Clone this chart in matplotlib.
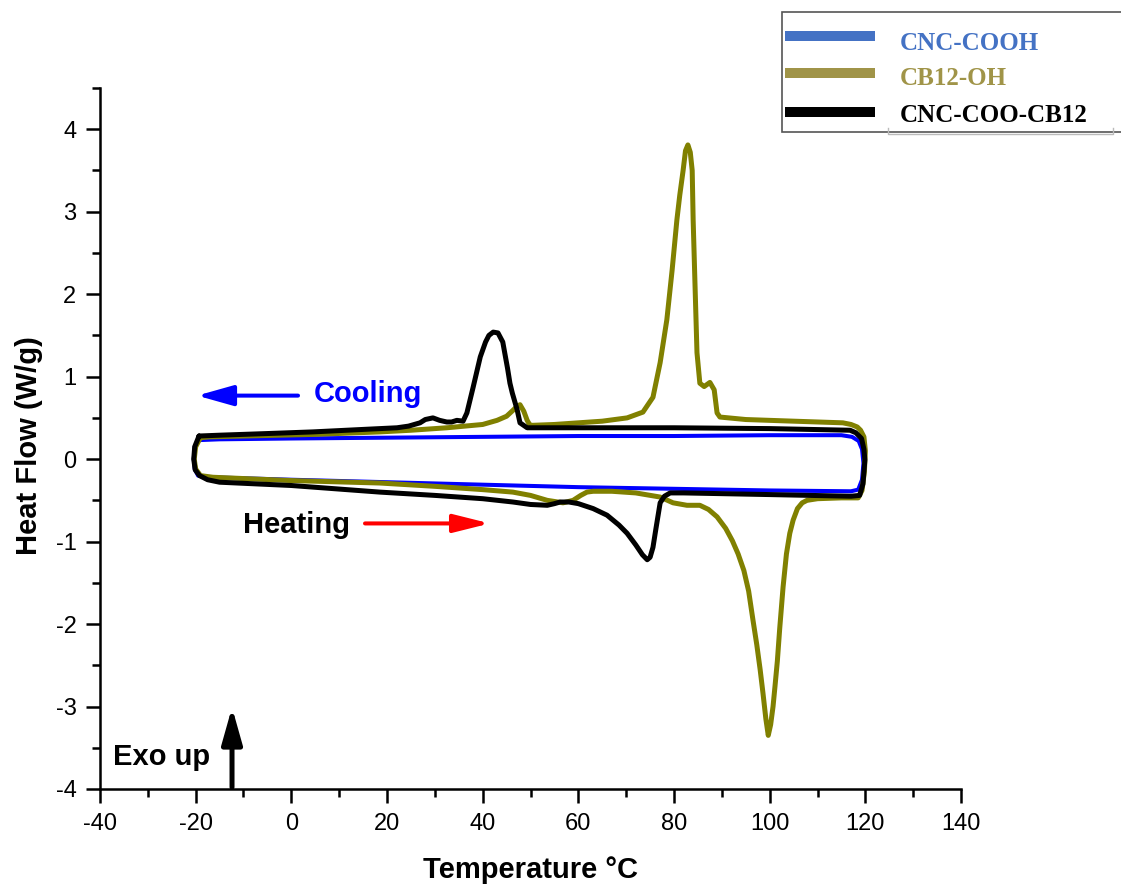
import numpy as np
import matplotlib.pyplot as plt
from matplotlib.lines import Line2D
from matplotlib.patches import Rectangle
from matplotlib.ticker import MultipleLocator

'''
    DSC loops read off the picture: heating branch (bottom) then cooling branch (top)
'''
cooh_heat_T = [-19.5, -20.2, -20.4, -20.2, -19.5, -17.0, 0, 20, 40, 60, 80, 100, 117.0, 118.5, 119.3, 119.6]
cooh_heat_hf = [0.23, 0.15, 0.0, -0.12, -0.20, -0.22, -0.25, -0.28, -0.31, -0.34, -0.36, -0.38, -0.39, -0.37, -0.25, -0.05]
cooh_cool_T = [119.6, 119.3, 118.6, 117.2, 115.0, 100, 80, 60, 40, 20, 0, -15, -19.5]
cooh_cool_hf = [-0.05, 0.12, 0.22, 0.27, 0.29, 0.29, 0.28, 0.28, 0.27, 0.26, 0.25, 0.24, 0.23]

cb12_heat_T = [-19.0, -20.0, -20.3, -20.0, -19.0, -16.4, 0, 18.5, 30, 40, 46.3, 50, 53.5, 56.8, 58.9, 60.5, 61.8,
               63.1, 67, 72, 77.1, 79.8, 82.7, 85.4, 87.2, 89.0, 90.8, 92.2, 93.4, 94.6, 95.6, 96.5, 97.3, 98.0,
               98.6, 99.2, 99.7, 100.2, 100.7, 101.1, 101.6, 102.1, 102.8, 103.5, 104.2, 104.9, 105.8, 106.8,
               107.8, 110, 115, 118.5, 119.3, 119.8]
cb12_heat_hf = [0.26, 0.15, 0.0, -0.12, -0.20, -0.22, -0.26, -0.29, -0.33, -0.37, -0.40, -0.44, -0.50, -0.53, -0.50,
                -0.44, -0.40, -0.39, -0.39, -0.41, -0.46, -0.53, -0.56, -0.56, -0.61, -0.70, -0.84, -0.99, -1.15,
                -1.35, -1.60, -1.95, -2.25, -2.55, -2.84, -3.15, -3.35, -3.22, -3.0, -2.76, -2.45, -2.05, -1.55,
                -1.15, -0.90, -0.74, -0.60, -0.53, -0.50, -0.48, -0.47, -0.47, -0.38, -0.15]
cb12_cool_T = [119.8, 120.0, 119.7, 119.0, 118.3, 117.0, 115.3, 105, 95, 89.6, 89.0, 88.4, 87.5, 86.3, 85.4,
               84.8, 84.4, 84.0, 83.8, 83.4, 82.9, 82.4, 81.9, 81.2, 80.6, 79.6, 78.5, 77.1, 75.6, 73.5, 70.2,
               65, 60, 55, 50.5, 49.9, 49.3, 48.6, 47.8, 47.0, 46.3, 45.0, 43.0, 40, 32.5, 25, 18.5, 5, -10, -17, -19.0]
cb12_cool_hf = [-0.15, 0.10, 0.27, 0.35, 0.39, 0.42, 0.44, 0.46, 0.48, 0.51, 0.56, 0.84, 0.93, 0.88, 0.92,
                1.29, 2.09, 2.90, 3.50, 3.72, 3.81, 3.74, 3.50, 3.20, 2.90, 2.29, 1.69, 1.17, 0.75, 0.57, 0.50,
                0.46, 0.44, 0.42, 0.41, 0.41, 0.47, 0.58, 0.66, 0.63, 0.59, 0.52, 0.47, 0.42, 0.38, 0.35, 0.33,
                0.30, 0.28, 0.27, 0.26]

coo_heat_T = [-19.3, -20.2, -20.4, -20.1, -19.2, -17.5, -15, 0, 18.5, 30, 40, 46.3, 50, 53.5, 55, 56.2, 58, 60,
              63.1, 66, 68.5, 70.2, 72, 73.4, 74.4, 75.0, 75.6, 76.2, 77.1, 78.0, 79.2, 82, 100, 117.0, 118.8,
              119.5, 119.9]
coo_heat_hf = [0.28, 0.15, 0.0, -0.13, -0.20, -0.25, -0.28, -0.32, -0.40, -0.44, -0.48, -0.52, -0.55, -0.56,
               -0.54, -0.52, -0.52, -0.54, -0.60, -0.68, -0.80, -0.90, -1.04, -1.16, -1.22, -1.19, -1.07, -0.85,
               -0.53, -0.45, -0.41, -0.41, -0.43, -0.45, -0.44, -0.30, -0.01]
coo_cool_T = [119.9, 119.7, 119.2, 118.0, 116.8, 100, 80, 60, 50, 49.3, 47.8, 47.2, 46.2, 45.7, 45.2, 44.2, 43.2,
              42.2, 41.3, 40.6, 39.5, 38.0, 36.7, 35.9, 34.6, 33.5, 32.5, 31.0, 29.6, 28.0, 26.9, 24.5, 22.1,
              15, 4.5, -5, -15, -19.3]
coo_cool_hf = [-0.01, 0.12, 0.25, 0.32, 0.35, 0.37, 0.38, 0.38, 0.38, 0.38, 0.44, 0.60, 0.80, 0.92, 1.10, 1.42,
               1.53, 1.54, 1.50, 1.42, 1.24, 0.87, 0.56, 0.46, 0.47, 0.45, 0.45, 0.47, 0.50, 0.48, 0.44, 0.40,
               0.38, 0.36, 0.33, 0.31, 0.29, 0.28]

legend_labels = ['CNC-COOH', 'CB12-OH', 'CNC-COO-CB12']
legend_colors = ['#4472c4', '#a09448', '#000000']

x_ticks = [-40, -20, 0, 20, 40, 60, 80, 100, 120, 140]
y_ticks = [-4, -3, -2, -1, 0, 1, 2, 3, 4]

plt.rcParams['font.family'] = ['Liberation Sans', 'DejaVu Sans']
plt.rcParams['axes.unicode_minus'] = False

fig = plt.figure(figsize=(11.21, 8.88), dpi=100, facecolor='white')
ax = fig.add_axes([0.0892, 0.1115, 0.7681, 0.7894])

# blue, olive then black on top
ax.plot(cooh_heat_T + cooh_cool_T, cooh_heat_hf + cooh_cool_hf, color='#0000ff', lw=2.9,
        solid_joinstyle='round', solid_capstyle='round')
ax.plot(cb12_heat_T + cb12_cool_T, cb12_heat_hf + cb12_cool_hf, color='#808000', lw=3.6,
        solid_joinstyle='round', solid_capstyle='round')
ax.plot(coo_heat_T + coo_cool_T, coo_heat_hf + coo_cool_hf, color='#000000', lw=3.6,
        solid_joinstyle='round', solid_capstyle='round')

ax.set_xlim(-40, 140)
ax.set_ylim(-4, 4.5)
ax.set_xticks(x_ticks)
ax.set_yticks(y_ticks)
ax.xaxis.set_minor_locator(MultipleLocator(10))
ax.yaxis.set_minor_locator(MultipleLocator(0.5))
ax.spines['top'].set_visible(False)
ax.spines['right'].set_visible(False)
for s in ['left', 'bottom']:
    ax.spines[s].set_linewidth(1.8)
ax.tick_params(which='major', direction='out', length=10, width=1.8, labelsize=17, pad=7)
ax.tick_params(which='minor', direction='out', length=5.5, width=1.8)

ax.set_xlabel('Temperature °C', fontsize=21, fontweight='bold')
ax.xaxis.set_label_coords(0.5, -0.095)
ax.set_ylabel('Heat Flow (W/g)', fontsize=21, fontweight='bold')
ax.yaxis.set_label_coords(-0.066, 0.49)

# annotations
ax.annotate('', xy=(-19.7, 0.77), xytext=(1.4, 0.77),
            arrowprops=dict(arrowstyle='-|>,head_length=2.2,head_width=0.62', mutation_scale=10,
                            color='#0000ff', lw=2.9, shrinkA=0, shrinkB=0))
ax.text(4.6, 0.69, 'Cooling', color='#0000ff', fontsize=21, fontweight='bold', ha='left', va='baseline')

ax.annotate('', xy=(41.5, -0.78), xytext=(15.4, -0.78),
            arrowprops=dict(arrowstyle='-|>,head_length=2.2,head_width=0.55', mutation_scale=10,
                            color='#ff0000', lw=2.9, shrinkA=0, shrinkB=0))
ax.text(-10.2, -0.90, 'Heating', color='black', fontsize=21, fontweight='bold', ha='left', va='baseline')

ax.annotate('', xy=(-12.4, -3.01), xytext=(-12.4, -3.98),
            arrowprops=dict(arrowstyle='-|>,head_length=2.2,head_width=0.62', mutation_scale=10,
                            color='black', lw=3.6, shrinkA=0, shrinkB=0))
ax.text(-37.3, -3.71, 'Exo up', color='black', fontsize=21, fontweight='bold', ha='left', va='baseline')

# legend box, drawn in figure coordinates
fig.add_artist(Rectangle((0.6976, 0.8514), 0.35, 0.1351, transform=fig.transFigure,
                         facecolor='white', edgecolor='#555555', lw=1.2, clip_on=False))
fig.add_artist(Line2D([0.7921, 0.7921, 0.9929, 0.9929], [0.8559, 0.8491, 0.8491, 0.8559],
                      transform=fig.transFigure, color='#bbbbbb', lw=1.0))
line_y = [0.9595, 0.9178, 0.8739]
text_y = [0.9437, 0.9043, 0.8626]
for lab, col, ly, ty in zip(legend_labels, legend_colors, line_y, text_y):
    fig.add_artist(Line2D([0.7047, 0.7761], [ly, ly], transform=fig.transFigure, color=col, lw=7.2))
    fig.text(0.8029, ty, lab, color=col, fontsize=18, fontweight='bold',
             family=['Liberation Serif', 'DejaVu Serif'], ha='left', va='baseline')

fig.savefig('out.png', dpi=100, facecolor='white')
